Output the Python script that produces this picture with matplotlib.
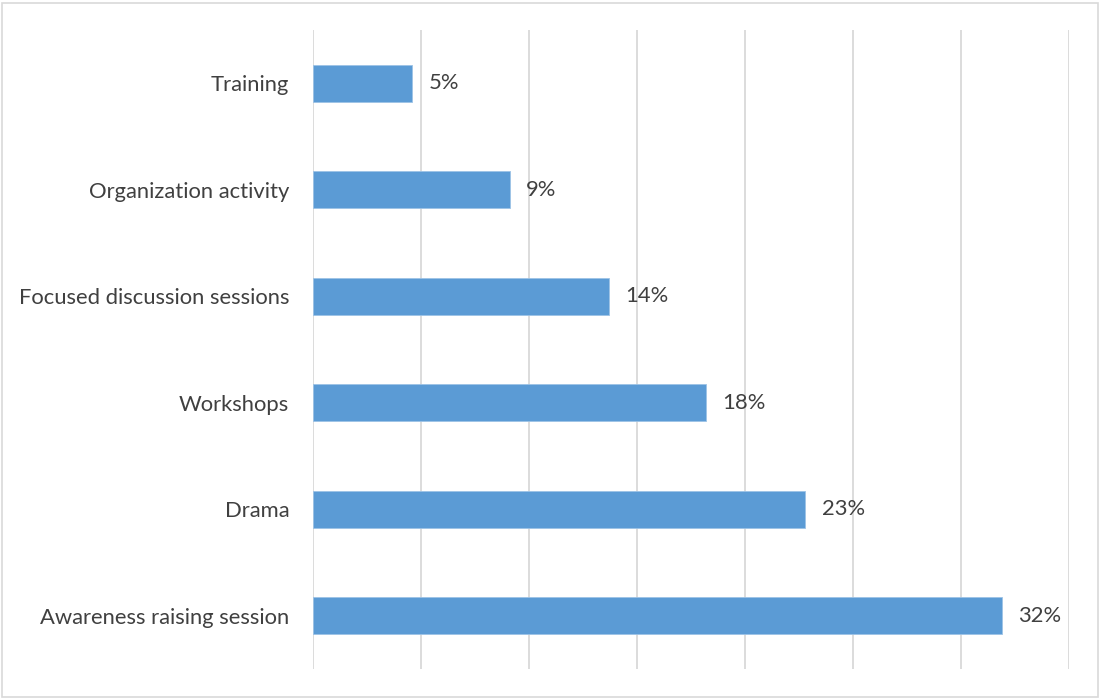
import matplotlib.pyplot as plt
from matplotlib.patches import Rectangle

# Share of activities (percent), top to bottom as shown
categories = ["Training", "Organization activity", "Focused discussion sessions",
              "Workshops", "Drama", "Awareness raising session"]
shares = [4.6, 9.1, 13.7, 18.2, 22.8, 31.9]

plt.rcParams['font.family'] = ['Lato', 'DejaVu Sans']

fig = plt.figure(figsize=(11, 7), dpi=100)
ax = fig.add_axes([313 / 1100, 1 - 669 / 700, 756 / 1100, 639 / 700])

ypos = list(range(len(categories)))[::-1]
ax.barh(ypos, shares, height=0.35, color="#5B9BD5", edgecolor="#9DC3E6",
        linewidth=0.6, zorder=3)

for y, v in zip(ypos, shares):
    ax.text(v + 0.75, y, f"{v:.0f}%", va="center", ha="left",
            fontsize=15.8, color="#404040")

ax.set_xlim(0, 35)
ax.set_ylim(-0.5, 5.5)
ax.set_xticks(range(0, 36, 5))
ax.set_xticklabels([])
ax.tick_params(axis="x", length=0)
ax.grid(axis="x", color="#D9D9D9", linewidth=1.3, zorder=0)
ax.set_yticks(ypos)
ax.set_yticklabels(categories, fontsize=15.8, color="#404040")
ax.tick_params(axis="y", length=0, pad=17)
for s in ax.spines.values():
    s.set_visible(False)

# thin frame around the whole chart
fig.patches.append(Rectangle((2 / 1100, 3 / 700), 1096 / 1100, 694 / 700,
                             transform=fig.transFigure, fill=False,
                             edgecolor="#D9D9D9", linewidth=1.2))

fig.savefig("out.png", dpi=100)
